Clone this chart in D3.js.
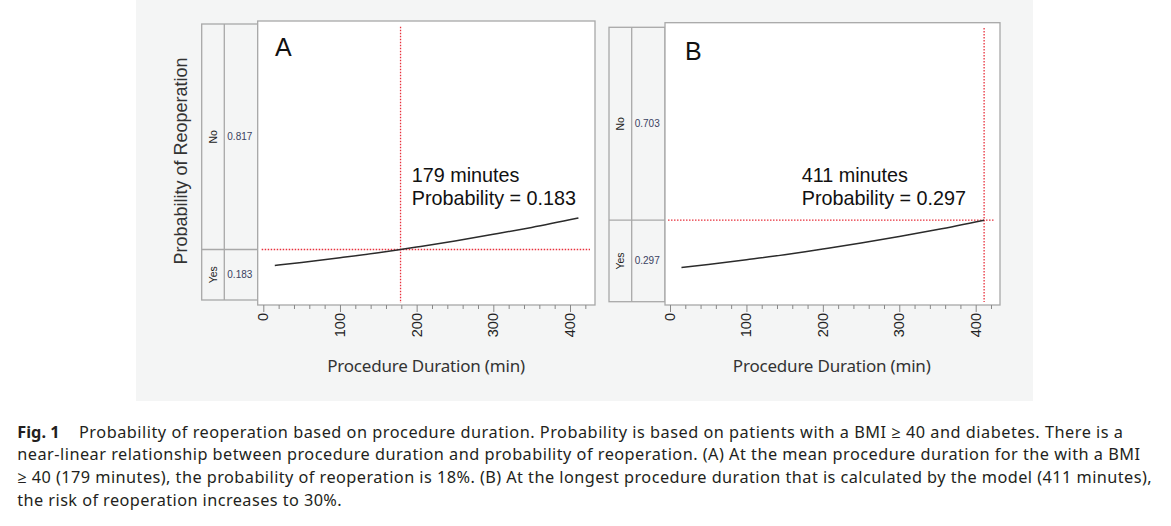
<!DOCTYPE html>
<html>
<head>
<meta charset="utf-8">
<script src="https://cdn.jsdelivr.net/npm/d3@7"></script>
<style>
  body { margin: 0; background: #fff; }
  svg { display: block; }
</style>
</head>
<body>
<div class="grafico"></div>
<script>
/* Datos */
const durations = [15, 50, 100, 150, 179, 200, 250, 300, 350, 411];
const probReoperation = [0.125, 0.136, 0.153, 0.171, 0.183, 0.192, 0.214, 0.238, 0.263, 0.297];
const xTickValues = [0, 100, 200, 300, 400];
const panelLabels = ['A', 'B'];
const markerMinutes = [179, 411];
const markerProbs = [0.183, 0.297];
const responseLevels = ['Yes', 'No'];
const yTitle = 'Probability of Reoperation';
const xTitle = 'Procedure Duration (min)';
const captionLines = [
  'Probability of reoperation based on procedure duration. Probability is based on patients with a BMI \u2265 40 and diabetes. There is a',
  'near-linear relationship between procedure duration and probability of reoperation. (A) At the mean procedure duration for the with a BMI',
  '\u2265 40 (179 minutes), the probability of reoperation is 18%. (B) At the longest procedure duration that is calculated by the model (411 minutes),',
  'the risk of reoperation increases to 30%.'
];

function main() {
  const w = 1171;
  const h = 526;

  /* Geometría de cada panel (px) */
  const layout = [
    { stripX0: 201.7, stripDiv: 224.3, plotX0: 257.7, plotX1: 595, plotY0: 21, plotY1: 305,
      stripY0: 24, stripY1: 300, x0: 263.3, x400: 570, letter: [275, 56], noteX: 411.7, titleX: 426,
      hLine: [261.7, 590], vLine: [26.7, 303] },
    { stripX0: 609, stripDiv: 631.7, plotX0: 665, plotX1: 1000, plotY0: 22.7, plotY1: 305,
      stripY0: 27.3, stripY1: 301.7, x0: 670, x400: 975.7, letter: [685, 60], noteX: 801.7, titleX: 831.7,
      hLine: [668, 995], vLine: [28, 302] }
  ];

  const svg = d3.select('.grafico')
    .append('svg')
    .attr('width', w)
    .attr('height', h);

  /*Fondo gris de la figura*/
  svg.append('rect')
    .attr('x', 136).attr('y', 0)
    .attr('width', 897).attr('height', 401)
    .attr('fill', '#f4f5f5');

  /*Título eje Y*/
  svg.append('text')
    .attr('transform', 'translate(187,161) rotate(-90)')
    .attr('text-anchor', 'middle')
    .attr('font-family', 'Liberation Sans, Arial, sans-serif')
    .attr('font-size', 18)
    .attr('fill', '#333')
    .text(yTitle);

  const points = durations.map((d, i) => [d, probReoperation[i]]);

  layout.forEach((L, k) => {
    const g = svg.append('g');

    const xScale = d3.scaleLinear().domain([0, 400]).range([L.x0, L.x400]);
    const yScale = d3.scaleLinear().domain([0, 1]).range([L.stripY1, L.stripY0]);

    /*Franja izquierda (Yes / No)*/
    g.append('rect')
      .attr('x', L.stripX0).attr('y', L.stripY0)
      .attr('width', L.plotX0 - L.stripX0).attr('height', L.stripY1 - L.stripY0)
      .attr('fill', '#f4f5f5').attr('stroke', '#a8a8a8').attr('stroke-width', 1.3);

    g.append('line')
      .attr('x1', L.stripDiv).attr('x2', L.stripDiv)
      .attr('y1', L.stripY0).attr('y2', L.stripY1)
      .attr('stroke', '#a8a8a8').attr('stroke-width', 1.3);

    const cut = yScale(markerProbs[k]);
    g.append('line')
      .attr('x1', L.stripX0).attr('x2', L.plotX0)
      .attr('y1', cut).attr('y2', cut)
      .attr('stroke', '#a8a8a8').attr('stroke-width', 1.3);

    const segs = [
      { name: responseLevels[0], val: markerProbs[k], yc: (cut + L.stripY1) / 2 },
      { name: responseLevels[1], val: 1 - markerProbs[k], yc: (L.stripY0 + cut) / 2 }
    ];
    segs.forEach(s => {
      g.append('text')
        .attr('transform', `translate(${(L.stripX0 + L.stripDiv) / 2 + 3.5},${s.yc}) rotate(-90)`)
        .attr('text-anchor', 'middle')
        .attr('font-family', 'Liberation Sans, Arial, sans-serif')
        .attr('font-size', 10.5)
        .attr('fill', '#222')
        .text(s.name);
      g.append('text')
        .attr('x', L.stripDiv + 3)
        .attr('y', s.yc + 3.5)
        .attr('font-family', 'Liberation Sans, Arial, sans-serif')
        .attr('font-size', 10)
        .attr('fill', '#3a4262')
        .text(s.val.toFixed(3));
    });

    /*Área de gráfico*/
    g.append('rect')
      .attr('x', L.plotX0).attr('y', L.plotY0)
      .attr('width', L.plotX1 - L.plotX0).attr('height', L.plotY1 - L.plotY0)
      .attr('fill', '#fff').attr('stroke', '#a8a8a8').attr('stroke-width', 1.3);

    /*Eje X: ticks menores y mayores*/
    const axis = g.append('g')
      .attr('transform', `translate(0,${L.plotY1})`)
      .call(d3.axisBottom(xScale)
        .tickValues(d3.range(0, 421, 20))
        .tickSize(4)
        .tickSizeOuter(0)
        .tickFormat(''));
    axis.select('.domain').remove();
    axis.selectAll('.tick line')
      .attr('stroke', '#888')
      .attr('y2', d => (d % 100 === 0 ? 7 : 4));

    g.selectAll('.xlab')
      .data(xTickValues)
      .join('text')
      .attr('class', 'xlab')
      .attr('transform', d => `translate(${xScale(d) + 5},${L.plotY1 + 8}) rotate(-90)`)
      .attr('text-anchor', 'end')
      .attr('font-family', 'Liberation Sans, Arial, sans-serif')
      .attr('font-size', 14.5)
      .attr('fill', '#222')
      .text(d => d);

    /*Título eje X*/
    g.append('text')
      .attr('x', L.titleX)
      .attr('y', 372)
      .attr('text-anchor', 'middle')
      .attr('font-family', 'Noto Sans, Open Sans, sans-serif')
      .attr('font-size', 17)
      .attr('letter-spacing', -0.2)
      .attr('fill', '#333')
      .text(xTitle);

    /*Líneas de referencia rojas*/
    const mx = xScale(markerMinutes[k]);
    g.append('line')
      .attr('x1', L.hLine[0]).attr('x2', L.hLine[1])
      .attr('y1', cut).attr('y2', cut)
      .attr('stroke', '#e8303c').attr('stroke-width', 1.3)
      .attr('stroke-dasharray', '1.5,1.5');
    g.append('line')
      .attr('x1', mx).attr('x2', mx)
      .attr('y1', L.vLine[0]).attr('y2', L.vLine[1])
      .attr('stroke', '#e8303c').attr('stroke-width', 1.3)
      .attr('stroke-dasharray', '1.5,1.5');

    /*Curva*/
    const line = d3.line()
      .x(d => xScale(d[0]))
      .y(d => yScale(d[1]))
      .curve(d3.curveMonotoneX);
    g.append('path')
      .datum(points)
      .attr('d', line)
      .attr('fill', 'none')
      .attr('stroke', '#2b2b2b')
      .attr('stroke-width', 1.5);

    /*Letra del panel y anotación*/
    g.append('text')
      .attr('x', L.letter[0]).attr('y', L.letter[1])
      .attr('font-family', 'Liberation Sans, Arial, sans-serif')
      .attr('font-size', 25)
      .attr('fill', '#111')
      .text(panelLabels[k]);

    const note = g.append('text')
      .attr('font-family', 'Liberation Sans, Arial, sans-serif')
      .attr('font-size', 19.8)
      .attr('fill', '#111');
    note.append('tspan').attr('x', L.noteX).attr('y', 182).text(`${markerMinutes[k]} minutes`);
    note.append('tspan').attr('x', L.noteX).attr('y', 205).text(`Probability = ${markerProbs[k].toFixed(3)}`);
  });

  /*Pie de figura*/
  const cap = svg.append('g')
    .attr('font-family', 'Noto Sans, Open Sans, sans-serif')
    .attr('font-size', 16.3)
    .attr('fill', '#231f20');

  cap.append('text')
    .attr('x', 17.3).attr('y', 437.5)
    .attr('font-weight', 'bold')
    .text('Fig. 1');

  const capX = [79, 17.3, 17.3, 17.3];
  const capEnd = [1123, 1140, 1151.7, 341.7];
  captionLines.forEach((t, i) => {
    cap.append('text')
      .attr('x', capX[i])
      .attr('y', 437.5 + i * 22.8)
      .attr('textLength', capEnd[i] - capX[i])
      .attr('lengthAdjust', 'spacing')
      .text(t);
  });
}

main();
</script>
</body>
</html>
